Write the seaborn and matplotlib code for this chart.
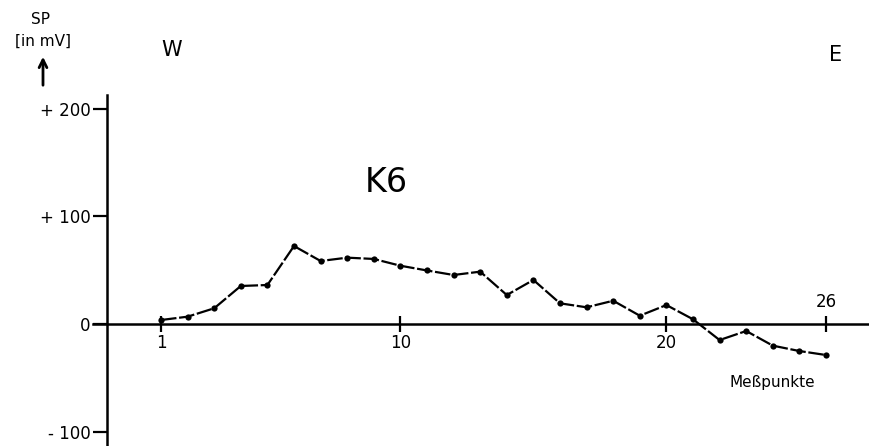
import numpy as np
import pandas as pd
import matplotlib
matplotlib.use("Agg")
import matplotlib.pyplot as plt
import seaborn as sns

punkte = list(range(1, 27))
sp = [3.7, 6.8, 14.6, 35.3, 36.2, 72.4, 58.5, 61.6, 60.4, 54.1,
      49.7, 45.5, 48.6, 26.9, 40.9, 19.2, 15.5, 21.6, 7.7, 17.6,
      4.4, -14.9, -6.5, -20.1, -25.1, -28.8]
yticks = [200, 100, 0, -100]
ytick_labels = ["+ 200", "+ 100", "0", "- 100"]
xticks = [1, 10, 20, 26]

df = pd.DataFrame({"punkt": punkte, "sp": sp})

sns.set_style("white")
plt.rcParams["font.family"] = ["DejaVu Sans"]
plt.rcParams["text.color"] = "black"
plt.rcParams["xtick.color"] = "black"
plt.rcParams["ytick.color"] = "black"

W, H = 869, 446
fig = plt.figure(figsize=(W / 100, H / 100), dpi=100)
ax = fig.add_axes([0, 0, 1, 1])

sns.lineplot(data=df, x="punkt", y="sp", ax=ax, color="black",
             marker="o", markersize=4.5, markeredgewidth=0, linewidth=1.6,
             dashes=False)
ax.lines[0].set_dashes([7, 1.2])

# pixel mapping: x=1 -> 161px, 26.6 px per point; y=0 -> 324px, 1.077 px/mV
ax.set_xlim(1 - 161 / 26.6, 1 + (W - 161) / 26.6)
ax.set_ylim(-(H - 324) / 1.077, 324 / 1.077)
ax.set_xlabel("")
ax.set_ylabel("")

for s in ["top", "right"]:
    ax.spines[s].set_visible(False)
ax.spines["left"].set_position(("data", 1 - (161 - 107) / 26.6))
ax.spines["left"].set_bounds(-(H - 324) / 1.077, (324 - 95) / 1.077)
ax.spines["bottom"].set_position(("data", 0))
ax.spines["bottom"].set_bounds(1 - (161 - 93) / 26.6, 1 + (W - 161) / 26.6)
for s in ["left", "bottom"]:
    ax.spines[s].set_linewidth(1.8)
    ax.spines[s].set_color("black")

ax.set_yticks(yticks)
ax.set_yticklabels(ytick_labels)
ax.tick_params(axis="y", direction="out", length=10, width=1.6, pad=2,
               labelsize=12, left=True, colors="black")
ax.set_xticks(xticks)
ax.set_xticklabels(["1", "10", "20", ""])
ax.tick_params(axis="x", direction="inout", length=11, width=1.6, pad=2,
               labelsize=12, bottom=True, colors="black")
ax.grid(False)

ax.text(26, 12, "26", ha="center", va="bottom", fontsize=12, color="black")


def ftext(x, y, s, **kw):
    fig.text(x / W, 1 - y / H, s, color="black", **kw)


ftext(40, 20, "SP", ha="center", va="center", fontsize=11)
ftext(43, 41, "[in mV]", ha="center", va="center", fontsize=11)
ax.annotate("", xy=(43 / W, 1 - 54 / H), xytext=(43 / W, 1 - 88 / H),
            xycoords="figure fraction", textcoords="figure fraction",
            arrowprops=dict(arrowstyle="->", lw=2, color="black",
                            mutation_scale=14))
ftext(172, 50, "W", ha="center", va="center", fontsize=15)
ftext(836, 55, "E", ha="center", va="center", fontsize=15)
ftext(386, 183, "K6", ha="center", va="center", fontsize=24)
ftext(772, 383, "Meßpunkte", ha="center", va="center", fontsize=11)

fig.savefig("out.png", dpi=100)
